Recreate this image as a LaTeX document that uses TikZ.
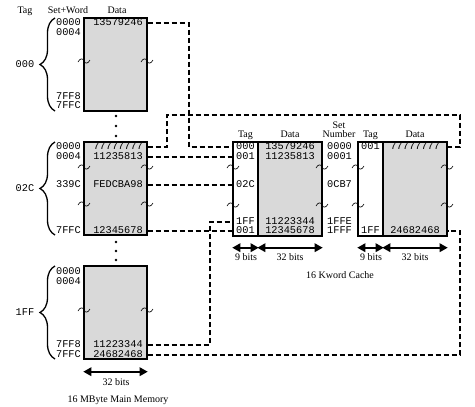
\documentclass[tikz,border=0pt]{standalone}
\usepackage{fontspec}
\setmainfont{Liberation Serif}
\setmonofont{Liberation Mono}
\usetikzlibrary{arrows.meta,decorations.pathreplacing}

\begin{document}
\begin{tikzpicture}[x=1pt,y=-1pt]
	\tikzset{every node/.style={inner sep=0pt, font=\fontsize{10}{10}\selectfont}}
	\tikzset{hd/.style={anchor=base}}
	\tikzset{hex/.style={font=\ttfamily\fontsize{10.3}{10}\selectfont, text height=5.6pt, text depth=0pt}}
	\tikzset{memblk/.style={draw, line width=1.4pt, fill=black!15, minimum width=63pt, minimum height=93pt}}
	\tikzset{tagcol/.style={draw, line width=1.4pt, fill=white, minimum width=25pt, minimum height=94pt}}
	\tikzset{datcol/.style={draw, line width=1.4pt, fill=black!15, minimum width=64pt, minimum height=94pt}}
	\tikzset{link/.style={line width=1.4pt, dash pattern=on 5pt off 3pt}}
	\tikzset{bitarr/.style={line width=1.7pt, {Triangle[length=8pt,width=8.5pt]}-{Triangle[length=8pt,width=8.5pt]}}}
	\tikzset{brc/.style={line width=1.3pt, decorate, decoration={brace, amplitude=15pt}}}
	\tikzset{memdot/.style={circle, fill, minimum size=2.8pt}}
	\tikzset{brk/.pic={\draw[line width=0.6pt] (-6,1) .. controls (-4,-3) and (-1,-3) .. (0,0) .. controls (1,3) and (4,3) .. (6,-1);}}

	\useasboundingbox (0,0) rectangle (475,407);

	\node[hd] (hTag)  at (25,13.5)  {Tag};
	\node[hd] (hSw)   at (68,13.5)  {Set+Word};
	\node[hd] (hData) at (117,13.5) {Data};

	\node[memblk] (mem1) at (115.5,64.5)  {};
	\node[memblk] (mem2) at (115.5,188.5) {};
	\node[memblk] (mem3) at (115.5,312.5) {};

	\node[memdot] (dt1) at (116,116) {};
	\node[memdot] (dt2) at (116,126) {};
	\node[memdot] (dt3) at (116,136) {};
	\node[memdot] (dt4) at (116,242) {};
	\node[memdot] (dt5) at (116,251) {};
	\node[memdot] (dt6) at (116,260) {};

	\draw[brc] (55,111) -- (55,18);
	\draw[brc] (55,235) -- (55,142);
	\draw[brc] (55,359) -- (55,266);
	\node[hex] (t1) at (25,64.5)  {000};
	\node[hex] (t2) at (25,188.5) {02C};
	\node[hex] (t3) at (25,312.5) {1FF};

	\node[hex, anchor=east] (a10) at (81,23)  {0000};
	\node[hex, anchor=east] (a11) at (81,33)  {0004};
	\node[hex, anchor=east] (a12) at (81,97)  {7FF8};
	\node[hex, anchor=east] (a13) at (81,106) {7FFC};
	\node[hex, anchor=east] (a20) at (81,147) {0000};
	\node[hex, anchor=east] (a21) at (81,157) {0004};
	\node[hex, anchor=east] (a22) at (81,185) {339C};
	\node[hex, anchor=east] (a23) at (81,231) {7FFC};
	\node[hex, anchor=east] (a30) at (81,272) {0000};
	\node[hex, anchor=east] (a31) at (81,282) {0004};
	\node[hex, anchor=east] (a32) at (81,345) {7FF8};
	\node[hex, anchor=east] (a33) at (81,355) {7FFC};

	\node[hex] (d10) at (118,23)  {13579246};
	\node[hex] (d20) at (118,147) {77777777};
	\node[hex] (d21) at (118,157) {11235813};
	\node[hex] (d22) at (118,185) {FEDCBA98};
	\node[hex] (d23) at (118,231) {12345678};
	\node[hex] (d32) at (118,345) {11223344};
	\node[hex] (d33) at (118,355) {24682468};

	\pic at (84,61)   {brk};
	\pic at (147,61)  {brk};
	\pic at (84,167)  {brk};
	\pic at (147,167) {brk};
	\pic at (84,204)  {brk};
	\pic at (147,204) {brk};
	\pic at (84,310)  {brk};
	\pic at (147,310) {brk};

	\node[tagcol] (tag1) at (245.5,189) {};
	\node[datcol] (dat1) at (290,189)   {};
	\node[tagcol] (tag2) at (370.5,189) {};
	\node[datcol] (dat2) at (415,189)   {};

	\node[hd] (cTag1)  at (245.5,137.6) {Tag};
	\node[hd] (cData1) at (290,137.6)   {Data};
	\node[hd] (cSet)   at (339,128.3)   {Set};
	\node[hd] (cNum)   at (339,137.6)   {Number};
	\node[hd] (cTag2)  at (370.5,137.6) {Tag};
	\node[hd] (cData2) at (415,137.6)   {Data};

	\node[hex, anchor=west] (c10) at (236,147) {000};
	\node[hex, anchor=west] (c11) at (236,157) {001};
	\node[hex, anchor=west] (c12) at (236,185) {02C};
	\node[hex, anchor=west] (c13) at (236,222) {1FF};
	\node[hex, anchor=west] (c14) at (236,231) {001};
	\node[hex] (e10) at (290,147) {13579246};
	\node[hex] (e11) at (290,157) {11235813};
	\node[hex] (e13) at (290,222) {11223344};
	\node[hex] (e14) at (290,231) {12345678};

	\node[hex, anchor=west] (s0) at (327,147) {0000};
	\node[hex, anchor=west] (s1) at (327,157) {0001};
	\node[hex, anchor=west] (s2) at (327,185) {0CB7};
	\node[hex, anchor=west] (s3) at (327,222) {1FFE};
	\node[hex, anchor=west] (s4) at (327,231) {1FFF};

	\node[hex, anchor=west] (c20) at (361,147) {001};
	\node[hex, anchor=west] (c24) at (361,231) {1FF};
	\node[hex] (e20) at (415,147) {77777777};
	\node[hex] (e24) at (415,231) {24682468};

	\pic at (233,167) {brk};
	\pic at (233,205) {brk};
	\pic at (322,167) {brk};
	\pic at (322,205) {brk};
	\pic at (358,167) {brk};
	\pic at (358,205) {brk};
	\pic at (447,167) {brk};
	\pic at (447,205) {brk};

	\coordinate (jA) at (189,115);
	\coordinate (jB) at (167,115);
	\coordinate (jC) at (460,115);
	\coordinate (jD) at (210,222);

	\draw[link] (mem1.east |- d10) -| (jA |- c10) -- (tag1.west |- c10);
	\draw[link] (mem2.east |- d20) -| (jB) -- (jC) |- (dat2.east |- e20);
	\draw[link] (mem2.east |- d21) -- (tag1.west |- c11);
	\draw[link] (mem2.east |- d22) -- (tag1.west |- c12);
	\draw[link] (mem2.east |- d23) -- (tag1.west |- c14);
	\draw[link] (mem3.east |- d32) -| (jD) -- (tag1.west |- c13);
	\draw[link] (mem3.east |- d33) -| (jC |- e24) -- (dat2.east |- e24);

	\draw[bitarr] ([yshift=-12pt]mem3.south west) -- ([yshift=-12pt]mem3.south east);
	\node (w32m) at (116,382) {32 bits};
	\node (mmem) at (118,400) {16 MByte Main Memory};

	\draw[bitarr] ([yshift=-11pt]tag1.south west) -- ([yshift=-11pt]tag1.south east);
	\draw[bitarr] ([yshift=-11pt]dat1.south west) -- ([yshift=-11pt]dat1.south east);
	\draw[bitarr] ([yshift=-11pt]tag2.south west) -- ([yshift=-11pt]tag2.south east);
	\draw[bitarr] ([yshift=-11pt]dat2.south west) -- ([yshift=-11pt]dat2.south east);
	\node (w9a)  at (246,257) {9 bits};
	\node (w32a) at (290,257) {32 bits};
	\node (w9b)  at (371,257) {9 bits};
	\node (w32b) at (415,257) {32 bits};
	\node (kcache) at (340,275) {16 Kword Cache};
\end{tikzpicture}
\end{document}
